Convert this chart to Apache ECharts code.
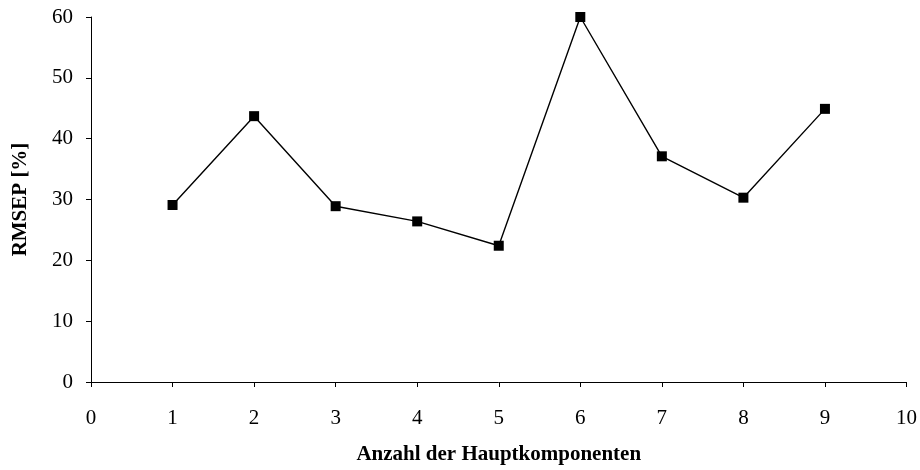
<!DOCTYPE html>
<html>
<head>
<meta charset="utf-8">
<script src="https://cdn.jsdelivr.net/npm/echarts@6/dist/echarts.min.js"></script>
<style>
  html, body { margin: 0; padding: 0; background: #fff; }
  #chart { width: 920px; height: 470px; }
</style>
</head>
<body>
<div id="chart"></div>
<script>
// Anzahl der Hauptkomponenten vs. RMSEP
const components = [1, 2, 3, 4, 5, 6, 7, 8, 9];
const rmsep = [29.1, 43.7, 28.9, 26.4, 22.4, 60.0, 37.1, 30.3, 44.9];

const chart = echarts.init(document.getElementById('chart'));
const font = '"Liberation Serif", "DejaVu Serif", serif';

chart.setOption({
    animation: false,
    grid: { left: 91, right: 13, top: 17, bottom: 87 },
    xAxis: {
        type: 'value', min: 0, max: 10, interval: 1,
        name: 'Anzahl der Hauptkomponenten',
        nameLocation: 'middle', nameGap: 62,
        nameTextStyle: { fontFamily: font, fontWeight: 'bold', fontSize: 21, color: '#000' },
        axisLine: { lineStyle: { color: '#000', width: 1 } },
        axisTick: { show: true, length: 5, lineStyle: { color: '#000' } },
        axisLabel: { fontFamily: font, fontSize: 21, color: '#000', margin: 26 },
        splitLine: { show: false }
    },
    yAxis: {
        type: 'value', min: 0, max: 60, interval: 10,
        name: 'RMSEP [%]',
        nameLocation: 'middle', nameGap: 60,
        nameTextStyle: { fontFamily: font, fontWeight: 'bold', fontSize: 21, color: '#000' },
        axisLine: { show: true, lineStyle: { color: '#000', width: 1 } },
        axisTick: { show: true, length: 5, lineStyle: { color: '#000' } },
        axisLabel: { fontFamily: font, fontSize: 21, color: '#000', margin: 18 },
        splitLine: { show: false }
    },
    series: [{
        type: 'line',
        data: components.map((c, i) => [c, rmsep[i]]),
        symbol: 'rect', symbolSize: 10,
        itemStyle: { color: '#000' },
        lineStyle: { color: '#000', width: 1.4 }
    }]
});
</script>
</body>
</html>
